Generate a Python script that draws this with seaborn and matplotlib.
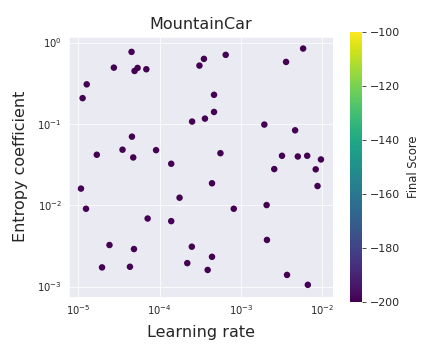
import numpy as np
import pandas as pd
import matplotlib
matplotlib.use('Agg')
import matplotlib.pyplot as plt
import seaborn as sns

# Values
learning_rate = [4.52e-5, 2.74e-5, 5.36e-5, 4.92e-5, 6.87e-5, 3.09e-4, 1.27e-5, 1.13e-5,
                 2.51e-4, 4.57e-5, 3.5e-5, 9.05e-5, 1.69e-5, 4.74e-5, 1.39e-4, 5.82e-3,
                 3.59e-3, 3.51e-4, 6.5e-4, 4.67e-4, 4.67e-4, 3.61e-4, 1.94e-3, 4.64e-3,
                 5.6e-4, 3.2e-3, 5.01e-3, 6.53e-3, 9.64e-3, 2.57e-3, 8.31e-3, 1.08e-5,
                 1.245e-5, 1.76e-4, 7.13e-5, 1.39e-4, 2.42e-5, 4.84e-5, 2.49e-4, 1.96e-5,
                 4.32e-5, 2.19e-4, 8.75e-3, 4.41e-4, 8.17e-4, 2.07e-3, 2.09e-3, 4.41e-4,
                 3.9e-4, 3.69e-3, 6.65e-3]
entropy_coef = [0.767, 0.491, 0.487, 0.447, 0.469, 0.52, 0.306, 0.207,
                0.1067, 0.0696, 0.0481, 0.0475, 0.0417, 0.0386, 0.0323, 0.843,
                0.577, 0.629, 0.705, 0.2275, 0.140, 0.116, 0.098, 0.0833,
                0.0436, 0.0405, 0.0397, 0.0405, 0.0365, 0.0278, 0.0276, 0.0160,
                0.00904, 0.01236, 0.00686, 0.00637, 0.00324, 0.00289, 0.00309, 0.00172,
                0.00175, 0.00194, 0.0172, 0.0186, 0.00904, 0.01004, 0.00374, 0.00232,
                0.0016, 0.00139, 0.00105]
final_score = [-200] * len(learning_rate)

df = pd.DataFrame({'lr': learning_rate, 'ent': entropy_coef, 'score': final_score})

sns.set_style('darkgrid')

fig = plt.figure(figsize=(6, 5), dpi=72)
ax = fig.add_axes([0.1597, 0.176, 0.611, 0.722])
cax = fig.add_axes([0.810, 0.1625, 0.029, 0.75])

norm = plt.Normalize(-200, -100)
sns.scatterplot(data=df, x='lr', y='ent', hue='score', palette='viridis',
                hue_norm=norm, legend=False, s=42, edgecolor='none', ax=ax)
ax.set_xscale('log')
ax.set_yscale('log')
ax.set_xlabel('Learning rate', fontsize=16, labelpad=8)
ax.set_ylabel('Entropy coefficient', fontsize=16, labelpad=9)
ax.set_title('MountainCar', fontsize=16, pad=8)
ax.tick_params(labelsize=10)

sm = plt.cm.ScalarMappable(cmap='viridis', norm=norm)
sm.set_array([])
cbar = fig.colorbar(sm, cax=cax)
cbar.set_label('Final Score', fontsize=11.5, labelpad=7)
cbar.ax.tick_params(labelsize=11, length=4)
cbar.outline.set_visible(False)

fig.savefig('out.png', dpi=72)
